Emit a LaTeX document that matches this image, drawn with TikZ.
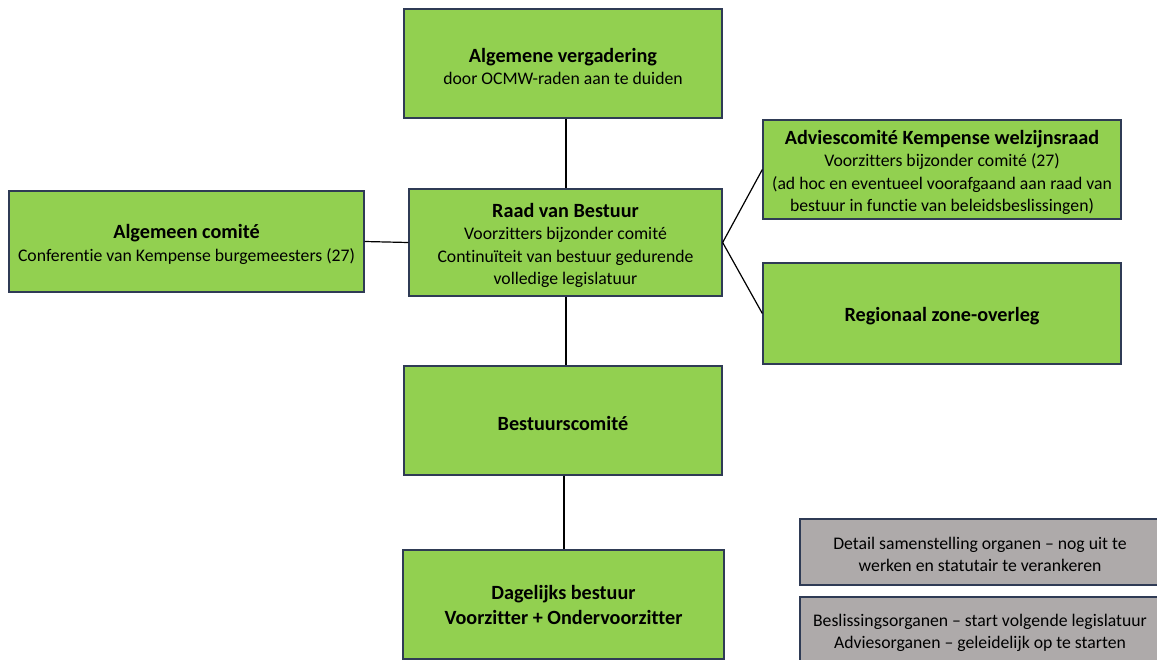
\documentclass[tikz,border=0pt]{standalone}
\usepackage{fontspec}
\setmainfont{Carlito}[Ligatures=NoCommon]
\definecolor{boxgreen}{HTML}{92D050}
\definecolor{boxgrey}{HTML}{AEAAAA}
\definecolor{boxedge}{HTML}{2F3B55}
\tikzset{
  gbox/.style={draw=boxedge, line width=1.3pt, fill=boxgreen, inner sep=0pt, align=center, font=\fontsize{17.7}{22.5}\selectfont},
  greybox/.style={draw=boxedge, line width=1.3pt, fill=boxgrey, inner sep=0pt, align=center, font=\fontsize{17.7}{22}\selectfont},
  conn/.style={draw=black, line width=1.2pt}
}
\newcommand{\ttl}[1]{{\fontsize{20.2}{23.5}\selectfont\bfseries #1}}
\newcommand{\ttlf}[1]{{\fontsize{20.2}{23.5}\selectfont\bfseries\rule{0pt}{20pt}#1}}
\newcommand{\gstrut}{\rule{0pt}{18pt}}
\begin{document}
\begin{tikzpicture}[x=1pt,y=-1pt]
\useasboundingbox (0,0) rectangle (1157,659);
\node[gbox, minimum width=318pt, minimum height=109pt] (av) at (563,63.5) {\ttlf{Algemene vergadering}\\door OCMW-raden aan te duiden};
\node[gbox, minimum width=355pt, minimum height=101pt] (ac) at (186.5,241.5) {\ttlf{Algemeen comité}\\Conferentie van Kempense burgemeesters (27)};
\node[gbox, minimum width=313pt, minimum height=107pt] (rb) at (565.5,242.5) {\ttlf{Raad van Bestuur}\\Voorzitters bijzonder comité\\Continuïteit van bestuur gedurende\\volledige legislatuur};
\node[gbox, minimum width=358pt, minimum height=99pt] (ak) at (942,169.5) {\ttlf{Adviescomité Kempense welzijnsraad}\\Voorzitters bijzonder comité (27)\\(ad hoc en eventueel voorafgaand aan raad van\\bestuur in functie van beleidsbeslissingen)};
\node[gbox, minimum width=358pt, minimum height=101pt] (rz) at (942,313.5) {\ttlf{Regionaal zone-overleg}};
\node[gbox, minimum width=318pt, minimum height=109pt] (bc) at (563,420.5) {\ttlf{Bestuurscomité}};
\node[gbox, minimum width=321pt, minimum height=109pt, font=\fontsize{20.2}{25}\selectfont\bfseries] (db) at (563.5,604.5) {Dagelijks bestuur\\Voorzitter + Ondervoorzitter};
\node[greybox, minimum width=360pt, minimum height=66pt] (g1) at (980,552) {\gstrut Detail samenstelling organen -- nog uit te\\werken en statutair te verankeren};
\node[greybox, minimum width=360pt, minimum height=66pt] (g2) at (980,630) {\gstrut Beslissingsorganen -- start volgende legislatuur\\Adviesorganen -- geleidelijk op te starten};
\draw[conn] (av.south -| 566,0) -- (rb.north -| 566,0);
\draw[conn] (ac.east) -- (rb.west);
\draw[conn] (rb.east) -- (ak.west);
\draw[conn] (rb.east) -- (rz.west);
\draw[conn] (rb.south -| 566,0) -- (bc.north -| 566,0);
\draw[conn] (bc.south -| 564,0) -- (db.north -| 564,0);
\end{tikzpicture}
\end{document}
